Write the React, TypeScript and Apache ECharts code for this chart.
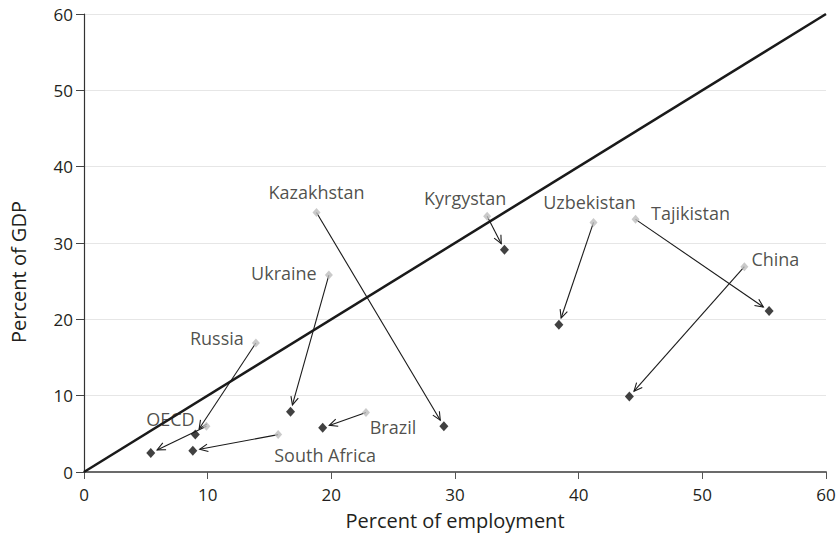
import React, { useEffect, useRef } from "react";
import * as echarts from "echarts";

const countries = ["Kazakhstan", "Kyrgystan", "Uzbekistan", "Tajikistan", "China", "Ukraine", "Russia", "OECD", "Brazil", "South Africa"];
// starting period (grey): [percent of employment, percent of GDP]
const startEmployment = [18.8, 32.6, 41.2, 44.6, 53.4, 19.8, 13.9, 9.9, 22.8, 15.7];
const startGDP = [34.0, 33.5, 32.7, 33.1, 26.9, 25.8, 16.9, 6.0, 7.8, 4.9];
// ending period (black)
const endEmployment = [29.1, 34.0, 38.4, 55.4, 44.1, 16.7, 9.0, 5.4, 19.3, 8.8];
const endGDP = [6.0, 29.1, 19.3, 21.1, 9.9, 7.9, 4.9, 2.5, 5.8, 2.8];
const diagonal = [[0, 0], [60, 60]];
const xTicks = [0, 10, 20, 30, 40, 50, 60];
const yTicks = [0, 10, 20, 30, 40, 50, 60];

// label offsets (px) relative to the grey marker
const labelOffsets: Record<string, [number, number]> = {
  Kazakhstan: [0, -20],
  Kyrgystan: [-22, -18],
  Uzbekistan: [-4, -20],
  Tajikistan: [55, -6],
  China: [31, -8],
  Ukraine: [-45, -2],
  Russia: [-39, -5],
  OECD: [-36, -7],
  Brazil: [27, 15],
  "South Africa": [47, 20],
};

const FONT = "'Open Sans', 'Noto Sans', sans-serif";
const TEXT = "#231f20";

export default function App() {
  const ref = useRef<HTMLDivElement>(null);
  useEffect(() => {
    if (!ref.current) return;
    const chart = echarts.init(ref.current, null, { renderer: "svg" });
    const arrowData = countries.map((_, i) => [startEmployment[i], startGDP[i], endEmployment[i], endGDP[i]]);
    chart.setOption({
      animation: false,
      backgroundColor: "#ffffff",
      grid: { left: 84, right: 13, top: 14, bottom: 69, containLabel: false },
      xAxis: {
        type: "value",
        min: xTicks[0],
        max: xTicks[xTicks.length - 1],
        interval: 10,
        name: "Percent of employment",
        nameLocation: "middle",
        nameGap: 38,
        nameTextStyle: { fontFamily: FONT, fontSize: 20, color: TEXT },
        axisLine: { show: true, lineStyle: { color: "#6b6b6b", width: 2 } },
        axisTick: { show: true, length: 7, lineStyle: { color: "#555", width: 1 } },
        axisLabel: { fontFamily: FONT, fontSize: 17, color: TEXT, margin: 14 },
        splitLine: { show: false },
      },
      yAxis: {
        type: "value",
        min: yTicks[0],
        max: yTicks[yTicks.length - 1],
        interval: 10,
        name: "Percent of GDP",
        nameLocation: "middle",
        nameGap: 56,
        nameRotate: 90,
        nameTextStyle: { fontFamily: FONT, fontSize: 20, color: TEXT, padding: [0, 58, 0, 0] },
        axisLine: { show: true, lineStyle: { color: "#333", width: 1.2 } },
        axisTick: { show: true, length: 8, lineStyle: { color: "#444", width: 1 } },
        axisLabel: { fontFamily: FONT, fontSize: 17, color: TEXT, margin: 11 },
        splitLine: { show: true, lineStyle: { color: "#e6e6e6", width: 1 } },
      },
      series: [
        {
          type: "line",
          data: diagonal,
          symbol: "none",
          lineStyle: { color: "#1a1a1a", width: 2.5 },
          z: 3,
          silent: true,
        },
        {
          type: "custom",
          data: arrowData,
          z: 4,
          renderItem: (params: any, api: any) => {
            const s = api.coord([api.value(0), api.value(1)]);
            const e = api.coord([api.value(2), api.value(3)]);
            const dx = e[0] - s[0];
            const dy = e[1] - s[1];
            const len = Math.sqrt(dx * dx + dy * dy);
            const ux = dx / len;
            const uy = dy / len;
            const tip = [e[0] - ux * 7, e[1] - uy * 7];
            const L = 9;
            const ang = (25 * Math.PI) / 180;
            const rot = (a: number) => [ux * Math.cos(a) - uy * Math.sin(a), ux * Math.sin(a) + uy * Math.cos(a)];
            const r1 = rot(ang);
            const r2 = rot(-ang);
            const p1 = [tip[0] - r1[0] * L, tip[1] - r1[1] * L];
            const p2 = [tip[0] - r2[0] * L, tip[1] - r2[1] * L];
            return {
              type: "group",
              children: [
                {
                  type: "line",
                  shape: { x1: s[0], y1: s[1], x2: tip[0], y2: tip[1] },
                  style: { stroke: "#1a1a1a", lineWidth: 1.1 },
                },
                {
                  type: "polyline",
                  shape: { points: [p1, tip, p2] },
                  style: { stroke: "#1a1a1a", lineWidth: 1.1, fill: "none" },
                },
              ],
            };
          },
        },
        {
          type: "scatter",
          z: 5,
          symbol: "diamond",
          symbolSize: [8, 9],
          itemStyle: { color: "#bdbdbd" },
          data: countries.map((c, i) => ({
            name: c,
            value: [startEmployment[i], startGDP[i]],
            label: {
              show: true,
              formatter: c,
              position: "inside",
              offset: labelOffsets[c],
              fontFamily: FONT,
              fontSize: 18,
              color: TEXT,
            },
          })),
        },
        {
          type: "scatter",
          z: 6,
          symbol: "diamond",
          symbolSize: [9, 10],
          itemStyle: { color: "#111" },
          data: countries.map((c, i) => ({ name: c, value: [endEmployment[i], endGDP[i]] })),
        },
      ],
    });
    return () => chart.dispose();
  }, []);
  return <div ref={ref} style={{ position: "fixed", left: 0, top: 0, width: 839, height: 541 }} />;
}
